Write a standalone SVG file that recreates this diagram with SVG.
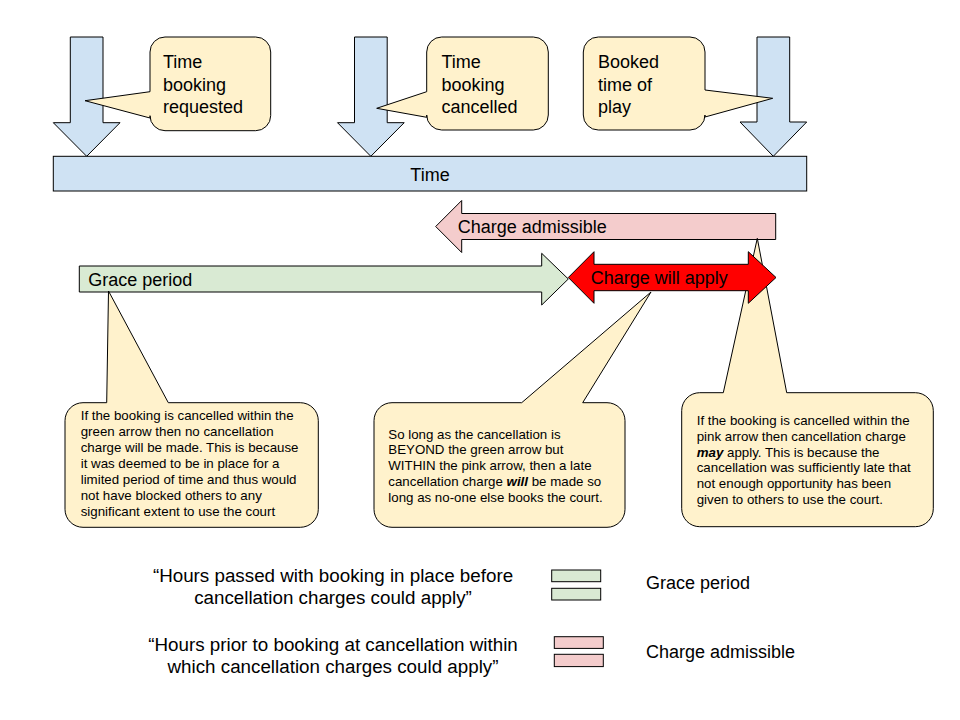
<svg xmlns="http://www.w3.org/2000/svg" width="960" height="720" viewBox="0 0 960 720">
<style>
  .ln { stroke: #000; stroke-width: 1; stroke-linejoin: miter; }
  .blue { fill: #cfe2f3; }
  .cream { fill: #fff2cc; }
  .green { fill: #d9ead3; }
  .pink { fill: #f4cccc; }
  .red { fill: #ff0000; }
  text { font-family: "Liberation Sans", Arial, sans-serif; fill: #000; }
  .big { font-size: 18px; }
  .quote { font-size: 18.8px; }
  .small { font-size: 13.3px; }
  .bi { font-weight: bold; font-style: italic; }
</style>
<rect width="960" height="720" fill="#fff"/>

<g id="arrow-requested">
  <polygon class="blue ln" points="70.3,37 103,37 103,122.7 120,122.7 86.7,156.3 53.3,122.7 70.3,122.7"/>
</g>
<g id="arrow-cancelled">
  <polygon class="blue ln" points="354.5,37 387.2,37 387.2,122.7 404.2,122.7 370.8,156.3 337.5,122.7 354.5,122.7"/>
</g>
<g id="arrow-play">
  <polygon class="blue ln" points="757,37 789.7,37 789.7,122 806.7,122 773.3,156.3 740,122 757,122"/>
</g>

<g id="time-bar">
  <rect class="blue ln" x="53.3" y="156.3" width="753.4" height="34.7"/>
  <text class="big" x="430" y="181" text-anchor="middle">Time</text>
</g>

<g id="callout-requested">
  <path class="cream ln" d="M165,37 H255.7 A15,15 0 0 1 270.7,52 V115.7 A15,15 0 0 1 255.7,130.7 H165 A15,15 0 0 1 150,115.7 V118 L85,100.7 L150,91.7 V52 A15,15 0 0 1 165,37 Z"/>
  <text class="big" x="163" y="68">Time</text>
  <text class="big" x="163" y="90.5">booking</text>
  <text class="big" x="163" y="113">requested</text>
</g>
<g id="callout-cancelled">
  <path class="cream ln" d="M441.7,37 H533.3 A15,15 0 0 1 548.3,52 V115 A15,15 0 0 1 533.3,130 H441.7 A15,15 0 0 1 426.7,115 V117.3 L376.7,108.3 L426.7,91.7 V52 A15,15 0 0 1 441.7,37 Z"/>
  <text class="big" x="441.5" y="68">Time</text>
  <text class="big" x="441.5" y="90.5">booking</text>
  <text class="big" x="441.5" y="113">cancelled</text>
</g>
<g id="callout-play">
  <path class="cream ln" d="M598.3,37 H690 A15,15 0 0 1 705,52 V90 L772.7,98.3 L705,117 V115 A15,15 0 0 1 690,130 H598.3 A15,15 0 0 1 583.3,115 V52 A15,15 0 0 1 598.3,37 Z"/>
  <text class="big" x="598" y="68">Booked</text>
  <text class="big" x="598" y="90.5">time of</text>
  <text class="big" x="598" y="113">play</text>
</g>

<g id="charge-admissible">
  <polygon class="pink ln" points="775.7,213.5 461.7,213.5 461.7,200.5 435.7,226.5 461.7,252.5 461.7,239.5 775.7,239.5"/>
  <text class="big" x="457.7" y="233.3">Charge admissible</text>
</g>

<g id="grace-period">
  <polygon class="green ln" points="79.3,266 541.7,266 541.7,253.3 568.3,279 541.7,305 541.7,292 79.3,292"/>
  <text class="big" x="88.3" y="286">Grace period</text>
</g>

<g id="callout-green">
  <path class="cream ln" d="M83,402.7 H106.7 L108.5,291 L168.3,402.7 H300.3 A18,18 0 0 1 318.3,420.7 V509.3 A18,18 0 0 1 300.3,527.3 H83 A18,18 0 0 1 65,509.3 V420.7 A18,18 0 0 1 83,402.7 Z"/>
  <text class="small" x="80.7" y="420.4">If the booking is cancelled within the</text>
  <text class="small" x="80.7" y="436.4">green arrow then no cancellation</text>
  <text class="small" x="80.7" y="452.4">charge will be made. This is because</text>
  <text class="small" x="80.7" y="468.4">it was deemed to be in place for a</text>
  <text class="small" x="80.7" y="484.4">limited period of time and thus would</text>
  <text class="small" x="80.7" y="500.4">not have blocked others to any</text>
  <text class="small" x="80.7" y="516.4">significant extent to use the court</text>
</g>

<g id="callout-beyond">
  <path class="cream ln" d="M392,402.7 H521.7 L651,292 L582.7,402.7 H607 A18,18 0 0 1 625,420.7 V509.3 A18,18 0 0 1 607,527.3 H392 A18,18 0 0 1 374,509.3 V420.7 A18,18 0 0 1 392,402.7 Z"/>
  <text class="small" x="388.3" y="438.5">So long as the cancellation is</text>
  <text class="small" x="388.3" y="454.4">BEYOND the green arrow but</text>
  <text class="small" x="388.3" y="470.3">WITHIN the pink arrow, then a late</text>
  <text class="small" x="388.3" y="486.2">cancellation charge <tspan class="bi">will</tspan> be made so</text>
  <text class="small" x="388.3" y="502.1">long as no-one else books the court.</text>
</g>

<g id="callout-pink">
  <path class="cream ln" d="M699.7,392.7 H723.3 L757.3,238.3 L786.7,392.7 H915.3 A18,18 0 0 1 933.3,410.7 V508.7 A18,18 0 0 1 915.3,526.7 H699.7 A18,18 0 0 1 681.7,508.7 V410.7 A18,18 0 0 1 699.7,392.7 Z"/>
  <text class="small" x="696.7" y="425.3">If the booking is cancelled within the</text>
  <text class="small" x="696.7" y="441">pink arrow then cancellation charge</text>
  <text class="small" x="696.7" y="456.7"><tspan class="bi">may</tspan> apply. This is because the</text>
  <text class="small" x="696.7" y="472.4">cancellation was sufficiently late that</text>
  <text class="small" x="696.7" y="488.1">not enough opportunity has been</text>
  <text class="small" x="696.7" y="503.8">given to others to use the court.</text>
</g>

<g id="charge-will-apply">
  <polygon class="red ln" points="568.3,277.5 594,251.7 594,264.3 748.3,264.3 748.3,251.7 776,277.5 748.3,303.3 748.3,290.7 594,290.7 594,303.3"/>
  <text class="big" x="590.7" y="284.3">Charge will apply</text>
</g>

<g id="legend-grace">
  <text class="quote" x="333" y="582" text-anchor="middle">“Hours passed with booking in place before</text>
  <text class="quote" x="333" y="603.5" text-anchor="middle">cancellation charges could apply”</text>
  <rect class="green ln" x="551.7" y="570" width="49" height="11.7"/>
  <rect class="green ln" x="551.7" y="588.3" width="49" height="11.7"/>
  <text class="big" x="646" y="589">Grace period</text>
</g>

<g id="legend-charge">
  <text class="quote" x="333" y="651" text-anchor="middle">“Hours prior to booking at cancellation within</text>
  <text class="quote" x="333" y="672.5" text-anchor="middle">which cancellation charges could apply”</text>
  <rect class="pink ln" x="554.3" y="636.7" width="49" height="11.7"/>
  <rect class="pink ln" x="554.3" y="654.3" width="49" height="12.3"/>
  <text class="big" x="646" y="658">Charge admissible</text>
</g>
</svg>
